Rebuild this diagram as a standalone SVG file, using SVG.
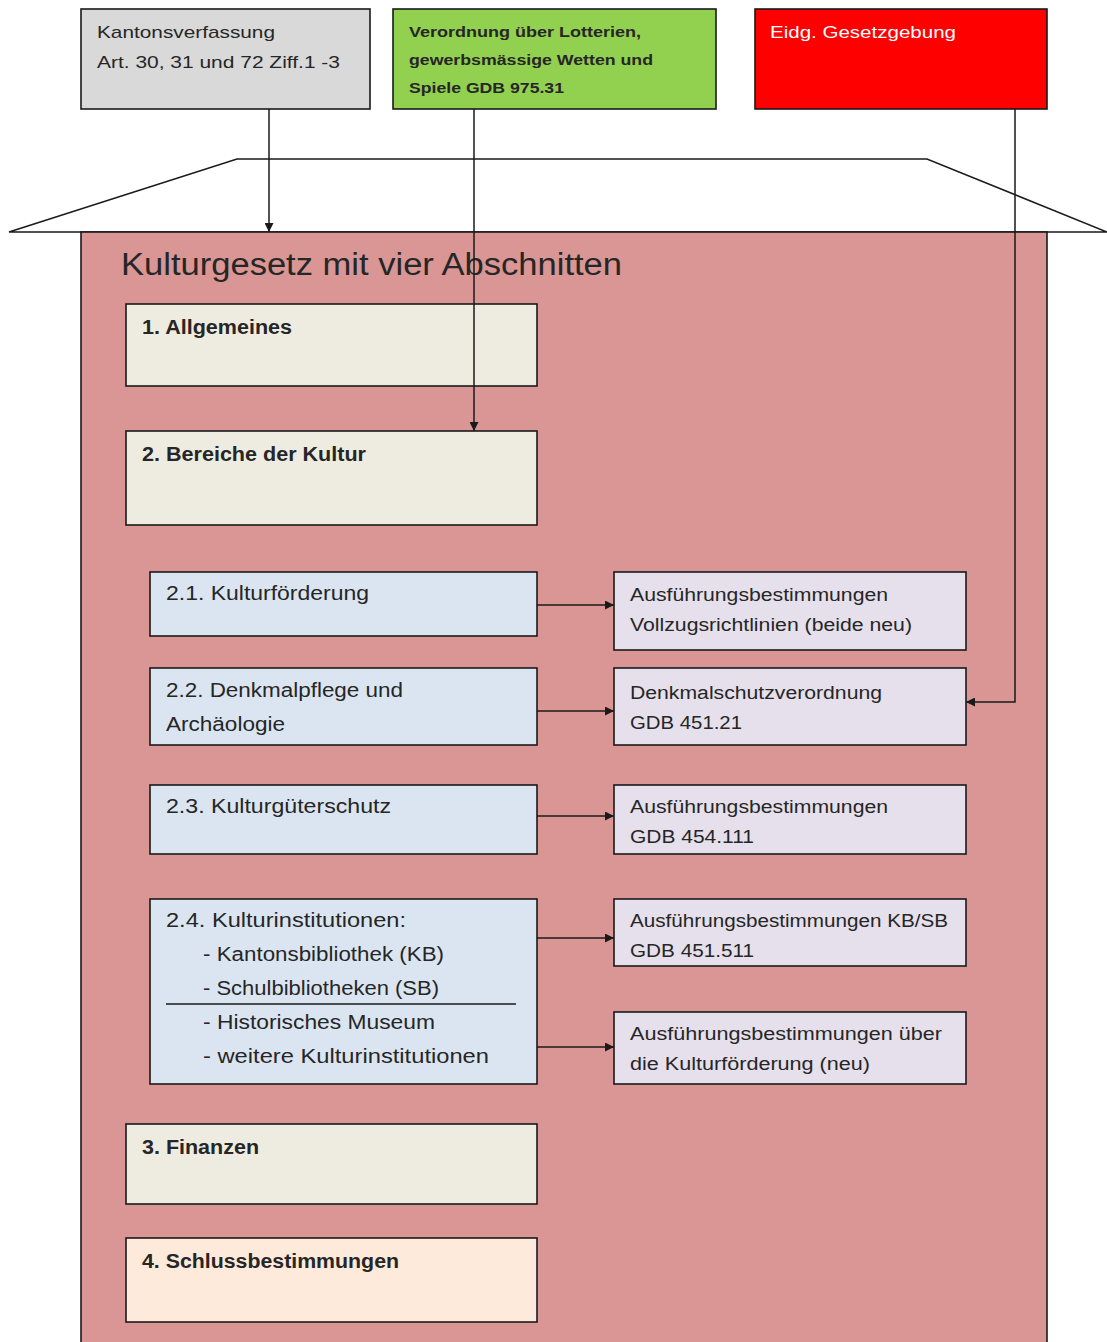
<svg xmlns="http://www.w3.org/2000/svg" width="1107" height="1342" viewBox="0 0 1107 1342">
<defs>
<style>
.b{stroke:#1a1a1a;stroke-width:1.6}
.t{font-family:"Liberation Sans",Arial,sans-serif;fill:#262626}
.bold{font-weight:bold}
.c{fill:none;stroke:#1a1a1a;stroke-width:1.5}
</style>
<marker id="ah" viewBox="0 0 10 10" refX="10" refY="5" markerWidth="9" markerHeight="9" markerUnits="userSpaceOnUse" orient="auto">
<path d="M0,0 L10,5 L0,10 z" fill="#1a1a1a"/>
</marker>
</defs>
<rect width="1107" height="1342" fill="#ffffff"/>
<g id="roof">
<polygon points="237,159 927,159 1107,232 9,232" fill="#ffffff" stroke="#1a1a1a" stroke-width="1.5"/>
</g>
<g id="kulturgesetz">
<rect x="81" y="232" width="966" height="1115" fill="#d99694" class="b"/>
<text x="121" y="275" class="t" font-size="31" fill="#2a1a1a" textLength="501" lengthAdjust="spacingAndGlyphs">Kulturgesetz mit vier Abschnitten</text>
</g>
<g id="kantonsverfassung">
<rect x="81" y="9" width="289" height="100" fill="#d9d9d9" class="b"/>
<text x="97" y="38" class="t" font-size="17" textLength="178" lengthAdjust="spacingAndGlyphs">Kantonsverfassung</text>
<text x="97" y="68" class="t" font-size="17" textLength="243" lengthAdjust="spacingAndGlyphs">Art. 30, 31 und 72 Ziff.1 -3</text>
</g>
<g id="verordnung-lotterien">
<rect x="393" y="9" width="323" height="100" fill="#92d050" class="b"/>
<text x="409" y="37" class="t bold" font-size="14.5" fill="#1c2a10" textLength="232" lengthAdjust="spacingAndGlyphs">Verordnung über Lotterien,</text>
<text x="409" y="65" class="t bold" font-size="14.5" fill="#1c2a10" textLength="244" lengthAdjust="spacingAndGlyphs">gewerbsmässige  Wetten und</text>
<text x="409" y="93" class="t bold" font-size="14.5" fill="#1c2a10" textLength="155" lengthAdjust="spacingAndGlyphs">Spiele GDB 975.31</text>
</g>
<g id="eidg-gesetzgebung">
<rect x="755" y="9" width="292" height="100" fill="#ff0000" class="b"/>
<text x="770" y="38" class="t" font-size="17" fill="#ffffff" style="fill:#ffffff" textLength="186" lengthAdjust="spacingAndGlyphs">Eidg. Gesetzgebung</text>
</g>
<g id="s1">
<rect x="126" y="304" width="411" height="82" fill="#eeece1" class="b"/>
<text x="142" y="334" class="t bold" font-size="20" textLength="150" lengthAdjust="spacingAndGlyphs">1. Allgemeines</text>
</g>
<g id="s2">
<rect x="126" y="431" width="411" height="94" fill="#eeece1" class="b"/>
<text x="142" y="461" class="t bold" font-size="20" textLength="224" lengthAdjust="spacingAndGlyphs">2. Bereiche der Kultur</text>
</g>
<g id="s21">
<rect x="150" y="572" width="387" height="64" fill="#dbe5f1" class="b"/>
<text x="166" y="600" class="t" font-size="20" textLength="203" lengthAdjust="spacingAndGlyphs">2.1. Kulturförderung</text>
</g>
<g id="s22">
<rect x="150" y="668" width="387" height="77" fill="#dbe5f1" class="b"/>
<text x="166" y="697" class="t" font-size="20" textLength="237" lengthAdjust="spacingAndGlyphs">2.2. Denkmalpflege und</text>
<text x="166" y="731" class="t" font-size="20" textLength="119" lengthAdjust="spacingAndGlyphs">Archäologie</text>
</g>
<g id="s23">
<rect x="150" y="785" width="387" height="69" fill="#dbe5f1" class="b"/>
<text x="166" y="813" class="t" font-size="20" textLength="225" lengthAdjust="spacingAndGlyphs">2.3. Kulturgüterschutz</text>
</g>
<g id="s24">
<rect x="150" y="899" width="387" height="185" fill="#dbe5f1" class="b"/>
<text x="166" y="927" class="t" font-size="20" textLength="240" lengthAdjust="spacingAndGlyphs">2.4. Kulturinstitutionen:</text>
<text x="203" y="961" class="t" font-size="20" textLength="241" lengthAdjust="spacingAndGlyphs">- Kantonsbibliothek (KB)</text>
<text x="203" y="995" class="t" font-size="20" textLength="236" lengthAdjust="spacingAndGlyphs">- Schulbibliotheken (SB)</text>
<line x1="166" y1="1004" x2="516" y2="1004" stroke="#1a1a1a" stroke-width="1.5"/>
<text x="203" y="1029" class="t" font-size="20" textLength="232" lengthAdjust="spacingAndGlyphs">- Historisches Museum</text>
<text x="203" y="1063" class="t" font-size="20" textLength="286" lengthAdjust="spacingAndGlyphs">- weitere Kulturinstitutionen</text>
</g>
<g id="s3">
<rect x="126" y="1124" width="411" height="80" fill="#eeece1" class="b"/>
<text x="142" y="1154" class="t bold" font-size="20" textLength="117" lengthAdjust="spacingAndGlyphs">3. Finanzen</text>
</g>
<g id="s4">
<rect x="126" y="1238" width="411" height="84" fill="#fdeada" class="b"/>
<text x="142" y="1268" class="t bold" font-size="20" textLength="257" lengthAdjust="spacingAndGlyphs">4. Schlussbestimmungen</text>
</g>
<g id="r1">
<rect x="614" y="572" width="352" height="78" fill="#e5e0ec" class="b"/>
<text x="630" y="601" class="t" font-size="18" textLength="258" lengthAdjust="spacingAndGlyphs">Ausführungsbestimmungen</text>
<text x="630" y="631" class="t" font-size="18" textLength="282" lengthAdjust="spacingAndGlyphs">Vollzugsrichtlinien (beide neu)</text>
</g>
<g id="r2">
<rect x="614" y="668" width="352" height="77" fill="#e5e0ec" class="b"/>
<text x="630" y="699" class="t" font-size="18" textLength="252" lengthAdjust="spacingAndGlyphs">Denkmalschutzverordnung</text>
<text x="630" y="729" class="t" font-size="18" textLength="112" lengthAdjust="spacingAndGlyphs">GDB 451.21</text>
</g>
<g id="r3">
<rect x="614" y="785" width="352" height="69" fill="#e5e0ec" class="b"/>
<text x="630" y="813" class="t" font-size="18" textLength="258" lengthAdjust="spacingAndGlyphs">Ausführungsbestimmungen</text>
<text x="630" y="843" class="t" font-size="18" textLength="124" lengthAdjust="spacingAndGlyphs">GDB 454.111</text>
</g>
<g id="r4">
<rect x="614" y="899" width="352" height="67" fill="#e5e0ec" class="b"/>
<text x="630" y="927" class="t" font-size="18" textLength="318" lengthAdjust="spacingAndGlyphs">Ausführungsbestimmungen KB/SB</text>
<text x="630" y="957" class="t" font-size="18" textLength="124" lengthAdjust="spacingAndGlyphs">GDB 451.511</text>
</g>
<g id="r5">
<rect x="614" y="1012" width="352" height="72" fill="#e5e0ec" class="b"/>
<text x="630" y="1040" class="t" font-size="18" textLength="312" lengthAdjust="spacingAndGlyphs">Ausführungsbestimmungen über</text>
<text x="630" y="1070" class="t" font-size="18" textLength="240" lengthAdjust="spacingAndGlyphs">die Kulturförderung (neu)</text>
</g>
<g id="connectors">
<line x1="269" y1="109" x2="269" y2="232" class="c" marker-end="url(#ah)"/>
<line x1="474" y1="109" x2="474" y2="431" class="c" marker-end="url(#ah)"/>
<polyline points="1015,109 1015,702 966,702" class="c" marker-end="url(#ah)"/>
<line x1="537" y1="605" x2="614" y2="605" class="c" marker-end="url(#ah)"/>
<line x1="537" y1="711" x2="614" y2="711" class="c" marker-end="url(#ah)"/>
<line x1="537" y1="816" x2="614" y2="816" class="c" marker-end="url(#ah)"/>
<line x1="537" y1="938" x2="614" y2="938" class="c" marker-end="url(#ah)"/>
<line x1="537" y1="1047" x2="614" y2="1047" class="c" marker-end="url(#ah)"/>
</g>
</svg>
